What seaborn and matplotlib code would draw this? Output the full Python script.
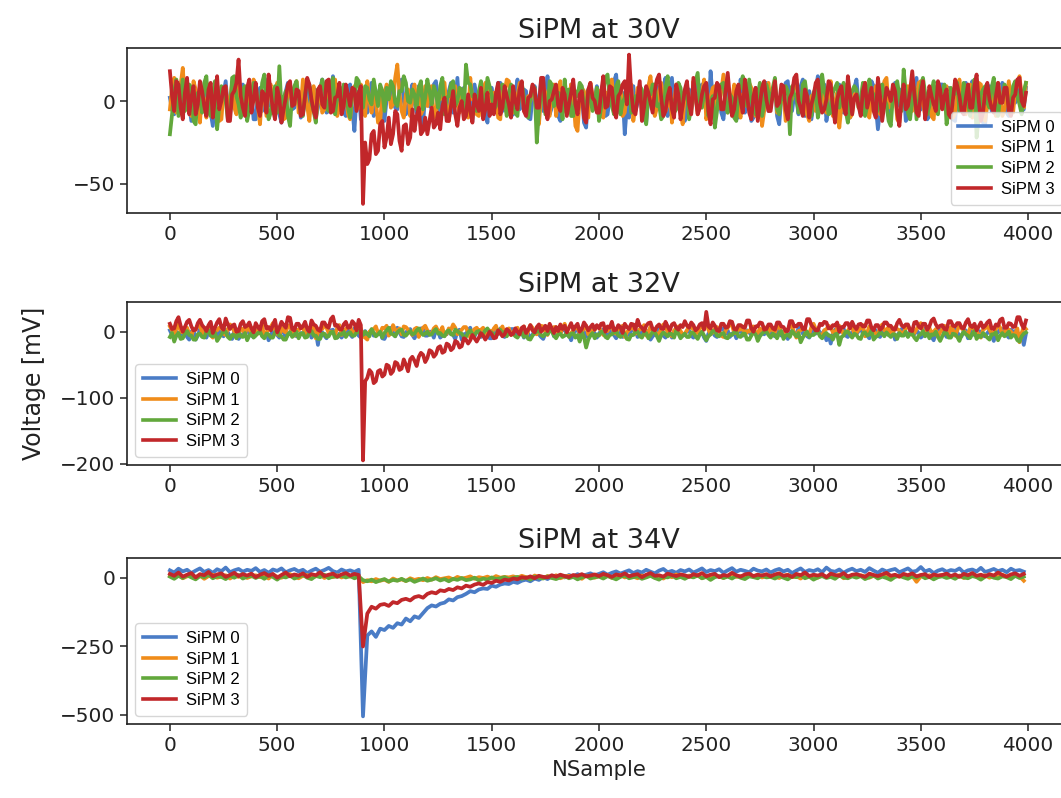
import numpy as np
import pandas as pd
import matplotlib
matplotlib.use("Agg")
import matplotlib.pyplot as plt
import seaborn as sns

# ---------------- data ----------------
STEP_30V = 10   # one stored value every 10 samples
STEP_32V = 10
STEP_34V = 20
PANEL_TITLES = ["SiPM at 30V", "SiPM at 32V", "SiPM at 34V"]
CHANNELS = ["SiPM 0", "SiPM 1", "SiPM 2", "SiPM 3"]
XTICKS = [0, 500, 1000, 1500, 2000, 2500, 3000, 3500, 4000]
YTICKS_30V = [-50, 0]
YTICKS_32V = [-200, -100, 0]
YTICKS_34V = [-500, -250, 0]

SIPM0_30V = [
    2, -5, -8, 4, 11, 0, -4, 7, 6, -3, -12, 1, 3, -9, 9, 2, -6, 10, 1, -7,
    -15, -1, 7, -10, -2, 5, 12, -4, -9, 8, 4, -6, -3, 6, 10, -2, -7, 3, 5, -11,
    -11, 3, 8, -6, -1, 9, 14, -3, -5, 2, 2, -8, -13, 0, 6, 11, 9, -5, -4, 7,
    3, -10, -8, 5, 12, -1, -2, 8, -10, -4, 7, 13, 1, -7, -6, 4, 15, -2, -3, 6,
    4, -7, -9, 2, 10, -5, -18, 3, 6, -11, 0, 5, -7, -2, 11, -9, -3, 4, 8, -6,
    -12, 1, 5, 9, 2, -4, -5, 7, 13, 0, -8, -3, 3, 10, -1, -7, 9, 2, -14, 5,
    7, -3, -4, 10, 12, -6, -10, 3, 1, -8, 6, 11, -7, -1, 14, -5, -2, 8, -9, 0,
    5, -12, 10, 2, -6, 9, 3, -4, -13, 6, 8, -2, -1, 11, 11, -6, -5, 3, 2, -9,
    -8, 4, 13, -5, -3, 7, 6, -10, -11, 2, 9, -3, 0, 12, -6, 1, 15, -8, -4, 5,
    4, -9, -12, 3, 7, -4, -2, 10, 10, -6, -9, 1, 5, -13, -16, 4, 8, -2, 1, 9,
    -5, 6, 11, -9, -8, 2, 3, 12, 16, -4, -7, 5, -20, -3, -10, 8, 9, -6, -1, 4,
    6, -11, -13, 3, 12, -2, -4, 9, 0, -7, 8, 14, -9, -1, 14, -6, -3, 10, 5, -8,
    -12, 4, 7, -5, 1, 11, -6, -2, 10, 3, -2, -9, 18, 2, -8, 6, 4, -7, -11, 1,
    9, -4, -3, 7, 6, -10, 13, 0, -7, 5, 2, -12, -10, 8, 5, -3, -1, 9, 11, -6,
    -4, 6, 8, -9, -14, 2, 3, 11, 12, -5, -6, 4, 1, -8, 9, 13, -9, -2, 6, -11,
    -2, 7, 15, -3, -5, 10, -12, -4, 7, 1, 0, -9, 10, 5, -7, 3, 4, -10, -3, 8,
    13, -1, -8, 5, 5, -6, -1, 12, 9, -3, -17, -5, 6, 11, 2, -9, -6, 4, 11, -2,
    -3, 7, 8, -12, -10, 2, 4, 9, 14, -6, -5, 3, 1, -11, -9, 6, 7, 0, -2, 10,
    10, -4, -6, 8, 3, -11, -12, 5, 8, -1, 0, 11, -4, -8, 12, 1, -8, 7, 5, -13,
    -14, 2, 9, -6, 2, 10, -3, -7, 11, 4, -7, -9, 6, 3, -1, 12, 4, -6, -5, 8,
]
SIPM1_30V = [
    -5, 8, 14, -7, -2, 10, 20, 1, 3, -6, -9, 12, 7, -4, -13, 5, 1, -10, 10, 3,
    -6, 9, 4, -12, -11, 6, 8, -3, 0, 11, -4, -8, 12, 2, -8, 7, 5, -5, -1, 13,
    9, -3, -14, 6, 3, -9, 7, 10, -6, -2, 11, 4, -2, -11, -10, 8, 6, -1, 1, 12,
    -7, -4, 13, 5, -3, -12, 5, 9, -12, 1, 9, -7, -5, 10, 2, -4, 8, 13, -9, -2,
    1, 7, 6, -8, -11, 3, 9, -5, -4, 10, 3, -9, 12, 0, -7, 5, 0, -13, -13, 6,
    5, 10, 8, -4, -2, 14, 22, 5, -6, -10, 4, 7, -9, 1, 10, -3, 2, -8, -5, 9,
    -3, 6, 9, -10, -8, 4, 1, 12, 11, -5, -12, 2, 5, 9, -1, -7, 7, 3, -6, -10,
    14, 1, 0, -8, -9, 6, 4, 11, 8, -3, -4, 5, 2, -10, -11, 7, 6, 13, 12, -4,
    -7, 2, 3, 11, 10, -6, -5, 3, 0, 8, 7, -11, -14, 2, 9, 5, -2, -9, 5, 10,
    -9, 4, 12, -7, 1, -4, -6, 10, 3, -15, -18, 2, 8, 6, -3, -10, 11, 3, -1, 7,
    6, -8, -10, 5, 2, 12, 13, -6, -4, 1, 9, -9, -7, 4, 0, 10, -12, -3, 8, 6,
    3, -11, -5, 9, 15, 1, -9, -4, 6, 11, 1, -6, -2, 7, -13, -1, 10, 4, -6, -14,
    4, 9, -1, -7, 12, 3, -8, -2, 5, 13, -11, -4, 2, 8, 9, -5, -4, 6, 16, 2,
    -7, -1, 0, 10, 7, -6, -10, 4, 3, -3, 11, 8, -5, -9, 1, 6, -15, -6, 8, 11,
    -2, 6, 10, -7, -6, 3, 5, -12, -9, 4, 1, 12, 13, -5, -3, 6, 7, -8, -12, 3,
    4, -6, 0, 9, 9, -2, -7, 5, 12, -9, -1, 5, -16, -3, 6, 9, 2, -10, -8, 4,
    5, -4, -3, 10, 11, -6, -10, 2, 0, 9, 8, -8, -5, 12, 14, -4, -2, 7, 6, -11,
    -13, 2, 3, 8, 9, -5, -6, 4, 1, 11, 12, -2, -8, 3, 4, -9, -11, 6, 7, -4,
    -4, 8, 9, -3, 1, -10, -7, 6, 13, 2, -2, -8, 6, 10, -10, -6, 3, 11, 10, -1,
    -12, -2, 5, 7, -3, -9, 11, 4, -9, -5, 2, 12, -1, -7, 6, 9, 15, 3, -4, 11,
]
SIPM2_30V = [
    -20, -8, 6, 13, -9, 2, 13, -6, -3, 10, 8, -12, -14, 5, 2, -7, 11, 15, -6, -9,
    4, 12, -17, -3, 9, 6, 0, -11, -8, 14, 15, 3, -2, -10, 7, 9, -12, -5, 3, 11,
    10, -4, -5, 11, 16, 2, -11, -7, 1, 9, -7, 21, -4, 1, 6, -9, -15, 5, 9, 12,
    2, -8, -9, 4, 12, 10, -1, -6, -13, 7, 5, 13, 8, -4, -6, 10, 14, -8, 3, 9,
    -3, 10, 7, -4, -10, 6, 3, 14, 12, -2, -4, 9, 8, 1, -2, 13, 5, -3, 10, 6,
    -6, 8, 1, 12, 9, -1, -3, 6, 6, 15, 11, 0, -1, 7, 4, -5, 8, 12, -5, 2,
    13, 6, -2, 9, 5, -4, 9, 14, -8, 2, 3, 10, 12, -3, 0, 8, 7, -6, 22, 11,
    10, 3, 2, -6, 6, 12, -7, 0, 14, 9, 4, -5, -3, 8, 8, 10, -1, -9, 5, 10,
    5, -7, -9, 7, 11, 2, -4, -10, 2, 9, 8, -25, -6, 4, 6, -8, -6, 12, 10, -3,
    -1, 5, 4, -11, 13, 0, 7, -9, -9, 6, 3, 11, 9, -4, -5, 7, 1, -6, -1, 8,
    -12, -4, 6, 14, 16, 1, -3, -8, 9, 12, -8, -1, 2, 10, 12, -7, -6, 3, 0, 9,
    7, -6, -14, 5, 4, 10, 10, -3, -2, -11, -9, 8, 15, 2, 1, -7, -5, 11, 8, -1,
    3, 8, -11, -4, 7, 12, 17, -2, -4, 5, 9, -9, -1, 3, -16, -6, 6, 10, 11, -2,
    -7, 4, 2, -10, -12, 6, 8, 15, 0, -3, 13, 1, -5, -8, 4, 11, -9, -2, 10, 5,
    -3, 8, 14, -5, -8, 3, 1, 9, 6, -20, 9, 4, 3, -7, -6, 10, 12, 2, -1, -9,
    5, 8, -10, -3, 16, 6, 2, -8, -7, 5, 8, 11, -4, 2, 11, -6, -13, 4, 6, 9,
    7, -4, 0, 11, -9, -3, 13, 6, 4, -8, -5, 9, 10, 1, -2, -12, -15, 3, 8, 12,
    3, -6, 19, 5, -7, -11, 1, 8, -11, -1, 9, 14, 5, -8, -3, 6, 12, -2, -8, 4,
    2, 10, -14, -6, 8, 3, 5, 11, -6, -3, 11, 2, -1, -9, 6, 13, -22, -10, 4, 7,
    9, -1, -4, 8, 14, -5, -9, 2, 0, 10, 7, -3, -5, 9, 12, 3, -2, -8, 6, 11,
]
SIPM3_30V = [
    18, 3, -6, 12, 10, -4, -11, 5, 14, -8, 2, 9, -8, -2, 12, 6, -3, -9, 7, 11,
    -10, 2, 15, -5, 0, 8, 9, -12, -12, 4, 6, 11, 25, 3, -4, -9, 8, 13, -7, 1,
    11, -4, -9, 6, 4, -7, 16, 5, -5, -11, 8, 2, -13, -5, 2, 10, 12, -3, -2, 7,
    6, -9, -8, 3, 14, 10, 1, -6, -10, 7, 9, -2, -4, 12, 13, -7, -6, 2, 3, 11,
    -8, -3, 10, 4, -3, 8, 7, -6, 5, 9, -62, -25, -38, -35, -20, -18, -32, -30, -14, -12,
    -28, -22, -10, -26, -20, -6, -8, -24, -30, -15, -14, -26, -22, -5, -18, -9, -4, -20, -18, -10,
    -20, -12, -4, -16, -14, -7, -17, -3, 2, -12, -12, -3, 6, -8, -15, -4, 0, -11, -9, 4,
    -6, -13, 4, -2, -6, 8, -11, -5, 5, -9, -2, -8, 5, 11, -8, -4, 9, 3, -2, -10,
    9, 0, -5, 7, 12, -6, -9, 2, 3, 10, 7, -4, -4, 14, 14, -5, -11, 0, 1, 6,
    10, -3, -6, 8, 4, -9, -2, 5, 13, -2, -8, 4, 6, -10, -13, 7, 11, 2, 0, -7,
    -7, 5, 15, -4, -3, 9, 8, -6, -10, 3, 5, 10, 12, -2, 28, 6, -6, -8, 2, 12,
    -12, -4, 9, 5, -1, -7, 6, 13, 16, 2, -9, -6, 3, 8, -5, -10, 10, 4, -11, -3,
    7, 12, -2, -8, 14, 3, -8, -4, 4, 9, 11, -6, -14, 1, 2, 11, 9, -5, -5, 6,
    17, 2, -9, -5, 6, 10, 0, -7, 13, 4, -7, -11, 3, 8, -12, -2, 8, 12, 1, -6,
    -6, 4, 12, -3, -1, 10, 9, -5, -11, 2, 5, 14, 16, 0, -4, -9, 7, 3, -10, -2,
    3, 11, 13, -1, -7, -5, 1, 12, 10, -3, -13, 1, 6, 9, -3, -8, 15, 4, -8, 2,
    4, -3, -9, 6, 11, -4, 2, 8, -6, -10, 14, 3, -12, -2, 8, 5, 0, 10, 6, -7,
    -15, 1, 10, -5, -3, 6, 18, 4, -7, -9, 5, 12, -11, -2, 9, 3, -2, -6, 12, 7,
    -5, 3, 7, -8, -10, 1, 13, 9, 3, -6, -8, 2, 10, -4, -4, 9, 16, 0, -12, -7,
    6, 11, 1, -4, -7, 3, 11, -1, -1, 8, 8, -6, -9, 2, 4, 13, 14, 0, -3, 5,
]

SIPM0_32V = [
    2, -5, -10, 0, -3, -8, 5, 1, -8, -12, 0, 3, -12, -6, 4, -2, -5, -9, -1, 3,
    6, -4, -9, 1, -2, -7, 3, -1, -7, -11, 1, 4, -11, -6, -4, 2, 5, -3, -6, -8,
    -2, 3, 4, -6, -8, -1, -13, -5, 1, 2, -5, -9, 3, 0, -10, -4, -1, 5, 6, -7,
    -7, -2, -3, -8, 2, 1, -9, -4, 0, -20, 4, -1, -6, -10, -2, 2, 3, -5, -9, -3,
    -9, -4, 1, 3, -4, -8, 5, -2, -6, -9, -2, 1, -8, -3, 3, -6, -5, 0, 0, -10,
    -11, -4, 2, 6, -3, -7, 6, -1, -7, -8, -1, 2, 4, -5, -10, -3, -2, 5, 5, -6,
    -6, 0, 0, -9, 3, 1, -9, -6, -2, -4, 4, -3, -5, -11, 1, 3, -12, -4, -3, 2,
    6, -5, -7, 0, 0, -8, -4, -1, 3, -10, -10, 2, -1, -4, 5, -6, -8, -3, -2, 4,
    4, -2, -6, 1, -1, -9, 2, -3, -9, -5, 3, -2, -4, -8, -11, -3, 0, 5, 5, -7,
    -7, -1, -2, 3, 4, -5, -5, -13, -3, 1, 6, -4, -8, 0, -8, -2, 0, 3, -3, -9,
    -3, 2, 3, -4, -7, 1, 1, -5, -10, -3, 6, -8, -2, -4, -5, 1, 4, 2, -8, -6,
    0, -4, 2, -3, -12, -7, -4, 3, 5, -2, -6, -9, 1, -3, -9, -5, 3, 1, -1, -6,
    -5, 2, 2, -6, -9, 0, 4, -4, -1, -9, -14, -3, 3, -1, -6, -8, 0, 5, 5, -3,
    2, -8, -3, -1, -10, 1, 6, -6, -4, 2, -1, -5, 3, -3, -7, 0, -1, -4, 1, 4,
    0, -5, -7, 2, 4, -6, -3, 1, -11, -4, 2, -2, -5, 6, 6, -3, -2, -7, -9, 1,
    1, -3, 4, -1, -6, 2, -13, -5, -18, -4, 3, -1, -1, 5, 5, -6, -8, -2, -3, 3,
    -4, 1, 5, -3, -2, -6, -10, -1, 3, 2, -6, -8, 1, 3, -3, -5, 6, 0, -12, -7,
    -1, 4, 4, -3, -7, 0, 0, -4, 2, -2, -9, -6, 5, -1, -4, -8, -13, 0, 1, 3,
    3, -2, -8, -4, -2, 3, 4, -1, -6, -7, 1, 2, -10, -3, 5, -5, -3, 1, 0, -6,
    -7, -2, 2, -5, -14, -3, -1, 4, 4, -2, -5, -9, 3, 0, 1, -4, -9, -6, -20, -3,
]
SIPM1_32V = [
    8, 2, -4, 5, 12, 0, -1, 7, 6, -3, -7, 4, 3, 9, 10, -2, -3, 6, 5, -5,
    -9, 1, 2, 6, 7, -3, -5, 4, 11, 8, 0, -2, -6, 5, 4, -4, 9, 3, -2, 6,
    1, -3, 7, 10, -8, -1, 4, 7, 13, 2, -3, -6, 6, 1, -1, 9, 10, -2, -6, 3,
    2, 8, 8, -5, -4, 2, 5, 9, -10, -2, 3, 4, 9, 6, -2, 0, 0, -5, 6, 10,
    -5, 1, 4, 8, 9, -1, -3, 6, 2, 5, -7, -9, -12, 0, 3, 4, 8, -2, -2, 6,
    5, 9, -6, -2, 10, 3, 1, 5, -4, 8, 7, 3, -1, -5, 4, 6, -8, 1, 6, 9,
    2, -4, -3, 5, 8, 1, 0, 7, -6, -3, 5, 3, 11, 6, -4, -1, 3, 7, 7, -2,
    -9, 0, 4, 6, 1, 3, 6, -4, -5, 2, -2, 5, 9, -3, 2, 8, -3, 1, 5, -5,
    -1, 4, 6, -2, 3, 8, -7, 1, 10, 6, -2, -4, 4, 9, 8, -1, -5, 3, 1, 7,
    7, -3, -3, 6, 12, 1, -6, -2, 2, 7, 5, -1, -1, 6, 9, -4, -4, 2, 3, 8,
    7, 0, -5, 3, 1, 8, 10, -2, -3, 4, 6, 9, -8, -1, 3, 5, 9, -3, -1, 4,
    4, 10, -6, -1, 8, 3, 2, -5, -4, 5, 11, 6, 0, -3, -7, 2, 5, 8, 1, -4,
    -3, 2, 9, 6, 4, -1, -2, 5, 7, 12, 15, 3, -4, -1, 5, 7, 1, -6, -8, 2,
    6, 11, 10, -2, -2, 4, 3, 8, -5, 1, 0, 6, 8, -3, -2, 5, 0, 7, 4, -1,
    6, 2, -1, 8, 10, -3, -5, 3, 3, 9, 8, -2, -9, 1, 2, 5, 5, -4, -3, 7,
    12, 4, 0, -5, -6, 2, 4, 9, 7, -1, -2, 6, 9, 3, -4, 0, 1, 7, 6, -3,
    -2, 3, 5, 10, -7, -1, 8, 4, 1, -3, -4, 6, 11, 2, 3, 7, -6, -1, 7, 4,
    2, -4, -1, 5, 9, 3, -5, -2, 4, 8, 13, 1, -3, 5, 6, -2, 0, 4, -8, -1,
    4, 9, -2, -6, 7, 3, -6, 2, 10, 5, 2, -3, -4, 6, 8, 1, 1, -5, -9, 3,
    5, 8, 3, -3, -1, 4, 11, 6, -5, -1, 6, 3, 0, -4, -3, 5, -16, -2, 8, 4,
]
SIPM2_32V = [
    -8, -2, -15, -6, -2, -11, -10, -3, 1, -5, -6, -12, -12, -4, -3, -8, -9, 0, 2, -6,
    -7, -1, -14, -9, -4, 1, 0, -8, -11, -5, -5, -10, -1, -7, -8, -2, -13, -6, -2, -9,
    -6, -2, 0, -7, -10, -3, -4, -9, -9, -1, 3, -6, -7, -12, -12, -4, -1, -8, -5, 0,
    -10, -3, -2, -9, -8, -1, 1, -6, -6, -11, -11, -3, -3, -8, -7, -1, 0, -10, -9, -4,
    -4, 0, -8, -3, -1, -6, -6, -1, 2, -4, -5, 0, -3, -7, 4, -2, -7, -4, 0, -9,
    -2, 2, 6, -3, -4, -7, -1, 2, 3, -5, -6, -2, 1, -4, -3, 2, 5, -1, -5, -3,
    0, -5, -4, 1, 4, -3, -2, -6, -7, 0, 2, -4, -5, 3, 1, -2, -3, -8, -8, -1,
    2, -4, -5, 0, 1, -6, -3, 2, 5, -1, -1, -6, -5, 2, 3, -3, 0, -7, -1, -4,
    -3, -7, -9, -4, 0, -8, -5, -11, -12, -6, -2, 0, 2, -5, -7, -3, -4, 1, 1, -6,
    -10, -4, -3, -8, -6, -1, -8, -3, -2, -9, -5, -15, -1, -8, -24, -12, -6, -2, -10, -4,
    -6, 0, -1, -8, -10, -5, -4, -1, 1, -6, -8, -4, -3, -11, -12, -5, -5, 0, 0, -7,
    -9, -2, -2, -10, -6, 0, -1, -7, -14, -5, -1, -4, -7, -2, -4, -9, 2, -3, -10, -6,
    -3, -8, -8, -1, -2, -7, -11, -4, 0, -6, -13, -7, -4, 1, 1, -6, -7, -3, -2, -9,
    -10, -4, -5, -1, 0, -7, -8, -3, -3, -12, -12, -6, -1, -4, -14, -7, -3, 0, 0, -5,
    -9, -3, -5, -10, -2, 1, -11, -6, -4, -8, 1, -3, -7, -2, -16, -9, -3, 0, -8, -5,
    -5, -1, 0, -7, -10, -4, -2, -6, -6, -12, -4, -3, -20, -8, -6, 0, 0, -5, -9, -3,
    -5, -10, -11, -2, -1, -6, -4, 2, -12, -8, -6, -1, -3, -7, -1, -5, -8, -4, -4, -11,
    -2, -6, -6, 0, -8, -3, -3, -9, -13, -6, -4, 1, -7, -2, -10, -4, -5, 0, -8, -14,
    -7, -1, -2, -9, -9, -3, -4, -8, -14, -5, 0, -4, -6, -10, -3, 1, -11, -6, -8, -2,
    -5, -9, -12, -4, -4, -1, -13, -6, -2, -7, -4, 0, -9, -5, -6, -13, -15, -7, -3, -1,
]
SIPM3_32V = [
    12, 4, 5, 16, 22, 9, 0, 7, 15, 18, 8, 2, 3, 13, 18, 10, 6, 1, 10, 15,
    -2, 6, 14, 19, 7, 3, 20, 11, 4, 9, 11, 0, 1, 12, 16, 7, 9, 14, 5, -1,
    13, 7, 3, 16, 19, 5, 7, 2, 10, 18, -1, 6, 15, 10, 6, 22, 21, 4, 2, 12,
    12, 5, 8, 15, 4, 0, 17, 11, 9, 3, 1, 14, 14, 8, 6, 19, 23, 9, 10, 4,
    3, 11, 15, 6, 7, 16, 12, 2, 18, 10, -195, -75, -70, -58, -62, -78, -75, -60, -58, -68,
    -65, -50, -52, -64, -60, -46, -48, -58, -56, -42, -50, -60, -42, -38, -44, -52, -38, -32, -35, -46,
    -40, -28, -30, -38, -34, -24, -22, -32, -30, -18, -20, -28, -25, -14, -16, -24, -22, -10, -12, -18,
    -13, -5, -10, -15, -9, -2, -6, -12, -7, 0, -4, -10, -9, 2, -2, -7, -4, 4, 1, -5,
    -3, 5, 0, -4, 6, 8, -2, 3, 10, 2, -1, 7, 11, 0, 4, 9, 1, 12, 5, -2,
    7, 1, 11, 4, 9, -1, 6, 13, 3, 8, 12, 0, 4, 14, 9, 2, 7, 11, 3, 10,
    5, 12, 13, 0, 8, 6, 15, 2, 3, 10, 7, -2, 12, 7, 4, 12, 11, 3, 18, 9,
    6, 1, 9, 13, 14, 4, 2, 8, 11, 5, 4, 15, 8, 2, 11, 13, 6, 3, 10, 7,
    16, 9, 6, 14, 10, 2, 5, 11, 13, 3, 30, 8, 5, 14, 9, 2, 1, 12, 12, 6,
    7, 16, 15, 4, 3, 10, 10, 7, 6, 17, 17, 5, 0, 8, 8, 14, 13, 3, 4, 11,
    11, 5, 3, 14, 14, 8, 7, 1, 1, 16, 16, 8, 8, 12, 12, 4, 4, 19, 19, 10,
    6, 2, 2, 12, 10, 15, 14, 5, 5, 10, 9, 14, 0, 7, 7, 13, 13, 5, 15, 8,
    4, 11, 12, 8, 8, 17, 17, 6, 2, 10, 10, 3, 6, 14, 14, 9, 9, 4, 3, 13,
    18, 10, 7, 11, 11, 2, 1, 14, 15, 8, 5, 12, 12, 3, 8, 17, 20, 11, 6, 9,
    10, 4, 3, 16, 16, 9, 8, 13, 13, 6, 5, 14, 19, 9, 7, 12, 2, 8, 14, 6,
    9, 14, 17, 5, 4, 11, 9, 18, 20, 6, 6, 13, 12, 7, 8, 22, 22, 11, 5, 17,
]

SIPM0_34V = [
    28, 20, 34, 24, 30, 18, 27, 35, 22, 29, 19, 32, 25, 38, 21, 28, 33, 23, 30, 26,
    36, 22, 29, 19, 31, 26, 35, 21, 28, 33, 24, 30, 18, 27, 34, 23, 29, 37, 25, 20,
    31, 24, 28, 22, 30, -505, -210, -195, -215, -185, -190, -175, -182, -165, -170, -148, -158, -140, -146, -128,
    -110, -100, -104, -94, -90, -78, -82, -70, -66, -58, -48, -52, -42, -38, -40, -28, -32, -24, -20, -22,
    -14, -18, -10, -6, -12, -2, -7, 3, -4, 6, 0, 8, 2, 11, 5, 14, 8, 12, 17, 10,
    15, 21, 12, 19, 24, 16, 22, 28, 18, 25, 20, 30, 23, 17, 27, 33, 21, 26, 19, 29,
    24, 31, 20, 27, 35, 22, 29, 25, 32, 19, 28, 36, 23, 30, 26, 21, 34, 27, 24, 31,
    20, 28, 33, 24, 30, 18, 27, 35, 22, 29, 25, 32, 21, 38, 26, 23, 31, 19, 28, 34,
    25, 30, 22, 36, 27, 19, 31, 24, 29, 33, 21, 28, 35, 23, 26, 40, 24, 30, 18, 27,
    32, 23, 29, 26, 35, 20, 28, 31, 24, 37, 22, 27, 33, 25, 30, 21, 34, 26, 29, 23,
]
SIPM1_34V = [
    8, 2, 11, -1, 6, 13, 3, 9, -3, 7, 12, 1, 5, 10, -2, 8, 4, 14, 0, 6,
    10, 3, 7, -2, 12, 5, 1, 9, 14, 4, -1, 8, 11, 2, 6, 13, 0, 7, 3, 10,
    2, 9, 5, 12, 6, -15, -8, -12, -4, -10, -6, -14, -2, -9, -5, -11, -1, -7, -3, -8,
    0, -6, 3, -4, -1, 2, -5, 4, -2, 1, 6, -3, 3, 0, 5, -2, 7, 1, 4, 2,
    6, 1, 8, 3, -2, 9, 4, 0, 7, 2, 10, -1, 5, 8, 3, 6, -3, 9, 4, 1,
    7, 3, 10, 0, 6, 12, 2, 8, 5, -1, 9, 4, 11, 1, 6, -2, 8, 3, 13, 5,
    2, 9, 5, 11, -1, 7, 3, 10, 6, 0, 8, 14, 4, 7, 1, 9, 5, 12, 2, 6,
    9, 4, 0, 8, 12, 3, 6, -2, 10, 5, 7, 1, 11, 4, 8, 2, 13, -1, 6, 9,
    3, 10, 6, 1, 8, 4, 12, 7, 0, 9, 5, 11, 2, 8, -14, 6, 3, 10, 4, 7,
    11, 5, 8, 2, 9, 0, 7, 13, 4, 6, 10, 1, 8, 3, 12, 5, 2, 9, 6, -10,
]
SIPM2_34V = [
    5, -3, 8, 0, 10, 2, -5, 7, 3, 12, -1, 6, 4, -4, 9, 1, 11, -2, 5, 8,
    0, 7, -3, 10, 4, -6, 6, 2, 9, -2, 5, 11, 1, -4, 8, 3, 12, -1, 6, 4,
    9, 2, 7, -1, 5, -8, -12, -6, -15, -9, -4, -13, -7, -10, -3, -11, -5, -14, -8, -2,
    -10, -6, -1, -9, -4, -12, -3, -7, 0, -8, -5, 1, -9, -2, -6, 2, -4, -1, 3, -5,
    0, 4, -3, 2, -6, 5, 1, -2, 6, 0, -4, 3, 7, -1, 4, -5, 2, 8, -2, 3,
    5, -2, 7, 1, -5, 4, 9, -1, 3, 6, -3, 2, 8, 0, -6, 5, 2, 10, -1, 4,
    -3, 6, 2, 9, -1, 4, -7, 3, 7, 0, 5, -2, 8, 1, -4, 6, 3, -1, 10, 2,
    4, -2, 8, 1, -5, 6, 3, 11, -1, 5, -6, 2, 7, 0, 4, -3, 9, 2, -1, 6,
    1, 7, -4, 3, 9, -2, 5, 0, -7, 4, 8, 2, -3, 6, 1, 10, -1, 4, -5, 3,
    6, 0, 4, -3, 8, 2, -1, 7, 3, -6, 5, 9, 1, -2, 6, 3, -4, 8, 0, 5,
]
SIPM3_34V = [
    15, 8, 20, 5, 12, 18, 2, 14, 10, 22, 6, 13, 17, 4, 11, 19, 7, 14, 9, 16,
    3, 12, 18, 8, 15, 1, 11, 20, 6, 13, 9, 17, 4, 14, 10, 21, 7, 12, 16, 5,
    13, 18, 9, 15, 11, -250, -130, -105, -112, -98, -95, -102, -88, -92, -80, -76, -82, -70, -66, -72,
    -58, -52, -56, -45, -48, -40, -44, -34, -38, -28, -32, -24, -20, -25, -15, -18, -10, -14, -6, -9,
    -2, -5, 3, 0, 6, -1, 8, 4, 2, 10, 5, 12, 7, 3, 11, 8, 14, 6, 9, 13,
    7, 15, 10, 4, 13, 9, 17, 6, 11, 14, 3, 12, 18, 8, 10, 5, 16, 11, 7, 13,
    10, 4, 14, 9, 18, 6, 12, 15, 3, 11, 8, 19, 10, 5, 13, 16, 7, 12, 9, 14,
    6, 13, 17, 8, 11, 4, 15, 10, 20, 7, 12, 9, 14, 3, 16, 11, 8, 18, 5, 12,
    14, 9, 4, 16, 11, 7, 13, 19, 8, 12, 5, 15, 10, 17, 6, 11, 14, 3, 13, 9,
    11, 16, 7, 13, 4, 15, 10, 18, 8, 12, 6, 14, 9, 20, 11, 5, 13, 17, 8, 15,
]

# ---------------- styling ----------------
COLORS = ["#4a7cc6", "#f08c1a", "#62a83c", "#c1272a"]
TICK_SIZE = 14.4
TITLE_SIZE = 19.5
LABEL_SIZE = 15.2
YLABEL_SIZE = 17
LEGEND_FONT = {"family": "Liberation Sans", "size": 12}

panels = [
    [SIPM0_30V, SIPM1_30V, SIPM2_30V, SIPM3_30V],
    [SIPM0_32V, SIPM1_32V, SIPM2_32V, SIPM3_32V],
    [SIPM0_34V, SIPM1_34V, SIPM2_34V, SIPM3_34V],
]
steps = [STEP_30V, STEP_32V, STEP_34V]
yticks = [YTICKS_30V, YTICKS_32V, YTICKS_34V]
ylims = [(-67.5, 32), (-202, 45), (-533, 73)]
legend_locs = ["lower right", "lower left", "lower left"]

W, H = 1061, 798
fig = plt.figure(figsize=(W / 100, H / 100), dpi=100)
fig.patch.set_facecolor("white")

# axes boxes in pixels: (left, top, right, bottom)
boxes = [(127, 48, 1071, 213), (127, 302, 1071, 465), (127, 558, 1071, 724)]

for k, (series, box) in enumerate(zip(panels, boxes)):
    l, t, r, b = box
    ax = fig.add_axes([l / W, 1 - b / H, (r - l) / W, (b - t) / H])
    frames = []
    for ch, vals in zip(CHANNELS, series):
        frames.append(pd.DataFrame({
            "NSample": np.arange(len(vals)) * steps[k],
            "Voltage": vals,
            "SiPM": ch,
        }))
    df = pd.concat(frames, ignore_index=True)
    sns.lineplot(data=df, x="NSample", y="Voltage", hue="SiPM",
                 hue_order=CHANNELS, palette=COLORS, estimator=None,
                 sort=False, linewidth=2.7, ax=ax)
    ax.set_xlim(-200, 4200)
    ax.set_ylim(*ylims[k])
    ax.set_xticks(XTICKS)
    ax.set_yticks(yticks[k])
    ax.tick_params(axis="both", labelsize=TICK_SIZE, length=5, width=1.1,
                   labelcolor="#222222", color="#222222")
    for sp in ax.spines.values():
        sp.set_linewidth(1.2)
        sp.set_color("#222222")
    ax.set_title(PANEL_TITLES[k], fontsize=TITLE_SIZE, color="#222222", pad=7)
    ax.set_xlabel("NSample" if k == 2 else "", fontsize=LABEL_SIZE, color="#222222")
    ax.set_ylabel("Voltage [mV]" if k == 1 else "", fontsize=YLABEL_SIZE,
                  color="#222222", labelpad=10)
    handles, labels = ax.get_legend_handles_labels()
    leg = ax.legend(handles, labels, loc=legend_locs[k], prop=LEGEND_FONT,
                    handlelength=2.0, handletextpad=0.6, labelspacing=0.35,
                    borderpad=0.45, framealpha=0.8, edgecolor="0.8")
    for ln in leg.get_lines():
        ln.set_linewidth(2.6)

fig.savefig("out.png", dpi=100)
